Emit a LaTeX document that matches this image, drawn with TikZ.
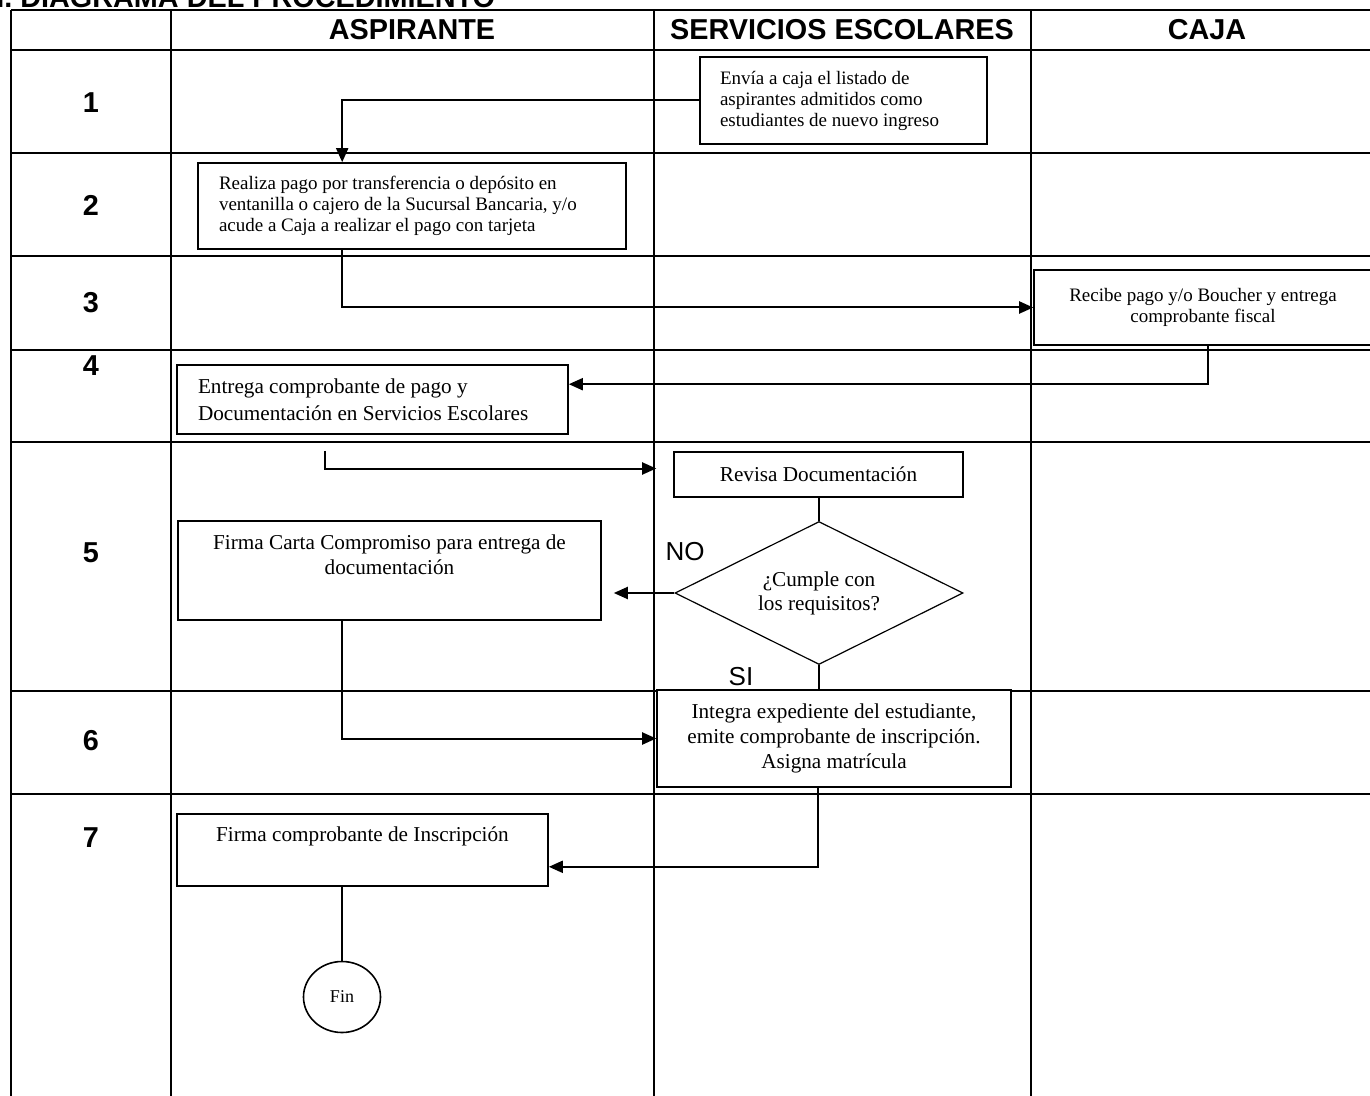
\documentclass[tikz,border=0pt]{standalone}
\usepackage{fontspec}
\setmainfont{Liberation Serif}
\newfontfamily\headfont{Liberation Sans}
\usetikzlibrary{shapes.geometric, arrows.meta, calc}

\begin{document}
\begin{tikzpicture}[x=0.5pt, y=-0.5pt]
    \tikzset{
        >={Triangle[length=7pt, width=6pt]}, % solid arrow heads
        lane line/.style={line width=1.1pt}, % lines of the table
        flow/.style={->, line width=1pt}, % connectors with arrow
        plain/.style={line width=0.7pt}, % connectors without arrow
        proc/.style={draw, fill=white, line width=0.8pt, rectangle, inner sep=0pt, font=\fontsize{10.6}{12.4}\selectfont,
            execute at begin node={\spaceskip=0pt\xspaceskip=0pt}}, % normal word spacing
        small proc/.style={proc, font=\fontsize{9.5}{10.5}\selectfont},
        decision/.style={draw, fill=white, line width=0.6pt, diamond, aspect=2, inner sep=0pt, minimum width=144pt, minimum height=71.5pt, align=center, font=\fontsize{10.6}{12}\selectfont,
            execute at begin node={\spaceskip=0pt\xspaceskip=0pt}},
        terminal/.style={draw, fill=white, ellipse, line width=0.8pt, minimum width=38.5pt, minimum height=35.5pt, inner sep=0pt, font=\fontsize{9}{10}\selectfont},
        head/.style={inner sep=0pt, font=\headfont\bfseries\fontsize{14.4}{16}\selectfont},
        answer/.style={inner sep=0pt, font=\headfont\fontsize{13}{15}\selectfont},
    }

    \useasboundingbox (0,0) rectangle (1370,1096);
    \clip (0,0) rectangle (1370,1096);

    % table
    \foreach \y in {10,50,153,256,350,442,691,794}
        \draw[lane line] (11,\y) -- (1383,\y);
    \foreach \x in {11,171,654,1031,1383}
        \draw[lane line] (\x,10) -- (\x,1110);

    % headers
    \node[head, anchor=base west] (title_text) at (-12,8) {II. DIAGRAMA DEL PROCEDIMIENTO};
    \node[head] (aspirante_head) at (412,30) {ASPIRANTE};
    \node[head] (servicios_head) at (842,30) {SERVICIOS ESCOLARES};
    \node[head] (caja_head) at (1207,30) {CAJA};
    \foreach \n/\y in {1/103, 2/205, 3/303, 4/366, 5/553, 6/741, 7/838}
        \node[head] (row_\n) at (91,\y) {\n};

    % steps
    \node[small proc, text width=123.5pt, inner xsep=10pt, minimum height=43.5pt, align=left] (listado_box) at (843.5,100.5) {Envía a caja el listado de\\aspirantes admitidos como\\estudiantes de nuevo ingreso};
    \node[small proc, text width=193pt, inner xsep=10.5pt, minimum height=43pt, align=left] (pago_box) at (412,206) {Realiza pago por transferencia o depósito en\\ventanilla o cajero de la Sucursal Bancaria, y/o\\acude a Caja a realizar el pago con tarjeta};
    \node[small proc, minimum width=169pt, minimum height=37.5pt, align=center] (recibe_box) at (1203,307.5) {Recibe pago y/o Boucher y entrega\\comprobante fiscal};
    \node[proc, text width=174.5pt, inner xsep=10.5pt, minimum height=34.5pt, align=left, font=\fontsize{10.6}{13.5}\selectfont] (entrega_box) at (372.5,399.5) {Entrega comprobante de pago y\\Documentación en Servicios Escolares};
    \node[proc, minimum width=144.5pt, minimum height=22.5pt] (revisa_box) at (818.5,474.5) {Revisa Documentación};
    \node[decision] (cumple_dec) at (819,593) {¿Cumple con\\los requisitos?};
    \node[proc, minimum width=211.5pt, minimum height=49.5pt, align=center] (carta_box) at (389.5,570.5) {Firma Carta Compromiso para entrega de\\documentación\\\strut};
    \node[proc, minimum width=177pt, minimum height=48.5pt, align=center] (integra_box) at (834,738.5) {Integra expediente del estudiante,\\emite comprobante de inscripción.\\Asigna matrícula};
    \node[proc, minimum width=185.5pt, minimum height=36pt, align=center] (inscripcion_box) at (362.5,850) {Firma comprobante de Inscripción\\\strut};
    \node[terminal] (fin_node) at (342,997) {Fin};

    % answers of the decision
    \node[answer] (no_label) at (685,552) {NO};
    \node[answer] (si_label) at (741,677) {SI};

    % connectors
    \draw[flow] (listado_box.west) -| ($(pago_box.north west)+(145,0)$);
    \draw[flow] ($(pago_box.south west)+(145,0)$) |- (recibe_box.west);
    \draw[flow] ($(recibe_box.south west)+(175,0)$) |- ($(entrega_box.north east)+(0,20)$);
    \draw[flow] ($(entrega_box.south west)+(149,16)$) |- ($(revisa_box.west)+(-17,-6)$);
    \draw[plain] (revisa_box.south -| cumple_dec.north) -- (cumple_dec.north);
    \draw[flow, shorten >=6pt] (cumple_dec.west) -- (cumple_dec.west -| carta_box.east);
    \draw[plain] (cumple_dec.south) -- (cumple_dec.south |- integra_box.north);
    \draw[flow] ($(carta_box.south west)+(165,0)$) |- (integra_box.west);
    \draw[flow] ($(integra_box.south west)+(162,0)$) |- ($(inscripcion_box.south east)+(0,-20)$);
    \draw[plain] (inscripcion_box.south -| fin_node.north) -- (fin_node.north);
\end{tikzpicture}
\end{document}
